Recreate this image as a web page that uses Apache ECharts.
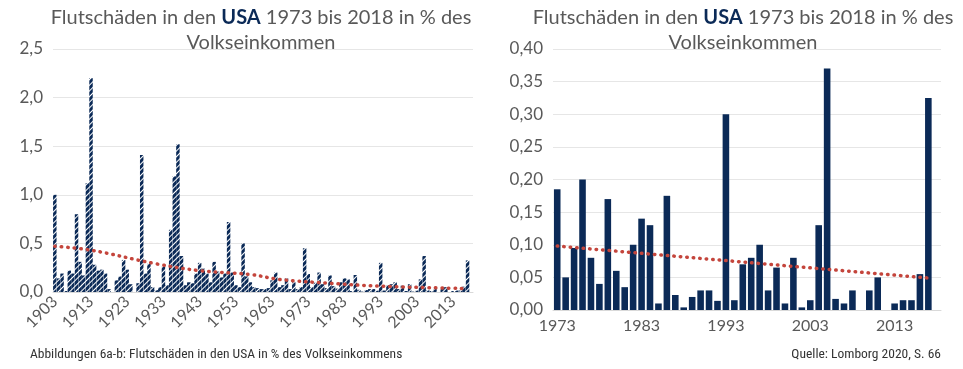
<!DOCTYPE html>
<html><head><meta charset="utf-8">
<script src="https://cdn.jsdelivr.net/npm/echarts@6/dist/echarts.min.js"></script>
<style>html,body{margin:0;padding:0;background:#fff}#c{width:963px;height:369px}</style>
</head><body><div id="c"></div>
<script>
// Categories
const yearsLong = [];   // 1903..2018
for (let y = 1903; y <= 2018; y++) yearsLong.push(String(y));
const yearsShort = [];  // 1973..2018
for (let y = 1973; y <= 2018; y++) yearsShort.push(String(y));

// Flood damage in % of national income, 1903-1972
const valuesEarly = [
  1.00, 0.14, 0.19, 0.01, 0.22, 0.19, 0.80, 0.31, 0.17, 1.12,
  2.20, 0.28, 0.22, 0.23, 0.19, 0.03, 0.00, 0.12, 0.16, 0.33,
  0.23, 0.08, 0.00, 0.09, 1.41, 0.19, 0.29, 0.05, 0.02, 0.05,
  0.26, 0.07, 0.64, 1.19, 1.52, 0.37, 0.07, 0.10, 0.09, 0.19,
  0.30, 0.24, 0.19, 0.10, 0.31, 0.21, 0.15, 0.19, 0.72, 0.20,
  0.07, 0.05, 0.50, 0.16, 0.10, 0.05, 0.04, 0.03, 0.03, 0.04,
  0.12, 0.20, 0.05, 0.07, 0.14, 0.03, 0.10, 0.03, 0.05, 0.45
];
// 1973-2018
const valuesRecent = [
  0.185, 0.05, 0.095, 0.20, 0.08, 0.04, 0.17, 0.06, 0.035, 0.10,
  0.14, 0.13, 0.01, 0.175, 0.023, 0.004, 0.02, 0.03, 0.03, 0.014,
  0.30, 0.015, 0.07, 0.08, 0.10, 0.03, 0.065, 0.01, 0.08, 0.004,
  0.015, 0.13, 0.37, 0.017, 0.01, 0.03, null, 0.03, 0.05, null,
  0.01, 0.015, 0.015, 0.055, 0.325, null
];
const valuesLong = valuesEarly.concat(valuesRecent);

// Trend lines (anchor points)
const trendLongYears = ['1903', '1913', '1931', '1943', '1957', '1965', '1979', '1993', '2017'];
const trendLongVals  = [0.47, 0.43, 0.29, 0.22, 0.18, 0.13, 0.09, 0.06, 0.035];
const trendShortYears = ['1973', '2017'];
const trendShortVals  = [0.098, 0.049];

// Tick settings
const yTicksLeft = { min: 0, max: 2.5, interval: 0.5 };
const yTicksRight = { min: 0, max: 0.4, interval: 0.05 };

const titleLine1Pre = 'Flutschäden in den ';
const titleBold = 'USA';
const titleLine1Post = ' 1973 bis 2018 in % des';
const titleLine2 = 'Volkseinkommen';
const footLeft = 'Abbildungen 6a-b: Flutschäden in den USA in % des Volkseinkommens';
const footRight = 'Quelle: Lomborg 2020, S. 66';

const NAVY = '#0b2a57';
const RED = '#c4453c';
const GREY = '#595959';
const GRID = '#e6e6e6';
const FONT = 'Lato, "Open Sans", sans-serif';
const NARROW = '"Liberation Sans Narrow", "Roboto Condensed", sans-serif';

function mapTrend(cats, yrs, vals) {
  return cats.map(c => { const i = yrs.indexOf(c); return i >= 0 ? vals[i] : null; });
}

const TS = 20;
const titleRich = {
  n: { fontFamily: FONT, fontSize: TS, fill: GREY },
  b: { fontFamily: FONT, fontSize: TS, fill: NAVY, fontWeight: 'bold' }
};
function titleEls(cx) {
  return [
    { type: 'text', x: cx, y: 18, style: {
        text: '{n|' + titleLine1Pre + '}{b|' + titleBold + '}{n|' + titleLine1Post + '}',
        rich: titleRich, align: 'center', verticalAlign: 'middle' } },
    { type: 'text', x: cx, y: 43, style: {
        text: titleLine2, fontFamily: FONT, fontSize: TS, fill: GREY, align: 'center', verticalAlign: 'middle' } }
  ];
}
const dotted = { color: RED, width: 3.5, type: [0.5, 6], cap: 'round' };

const chart = echarts.init(document.getElementById('c'));
chart.setOption({
  animation: false,
  backgroundColor: '#ffffff',
  graphic: titleEls(261).concat(titleEls(743)).concat([
    { type: 'text', x: 30, y: 355, style: { text: footLeft, fontFamily: NARROW, fontSize: 13.5, fill: '#333', verticalAlign: 'middle' } },
    { type: 'text', x: 941, y: 355, style: { text: footRight, fontFamily: NARROW, fontSize: 13.5, fill: '#333', align: 'right', verticalAlign: 'middle' } }
  ]),
  grid: [
    { left: 53, right: 490, top: 49, bottom: 77 },
    { left: 553, right: 22, top: 49, bottom: 59 }
  ],
  xAxis: [
    { type: 'category', gridIndex: 0, data: yearsLong,
      axisLine: { lineStyle: { color: '#d9d9d9' } }, axisTick: { show: false },
      axisLabel: { interval: 9, rotate: 45, color: GREY, fontFamily: FONT, fontSize: 16, margin: 7 } },
    { type: 'category', gridIndex: 1, data: yearsShort,
      axisLine: { lineStyle: { color: '#d9d9d9' } }, axisTick: { show: false },
      axisLabel: { interval: 9, color: GREY, fontFamily: FONT, fontSize: 16, margin: 8 } }
  ],
  yAxis: [
    { type: 'value', gridIndex: 0, min: yTicksLeft.min, max: yTicksLeft.max, interval: yTicksLeft.interval,
      axisLabel: { color: GREY, fontFamily: FONT, fontSize: 17, margin: 10, formatter: v => v.toFixed(1).replace('.', ',') },
      splitLine: { lineStyle: { color: GRID } }, axisLine: { show: false }, axisTick: { show: false } },
    { type: 'value', gridIndex: 1, min: yTicksRight.min, max: yTicksRight.max, interval: yTicksRight.interval,
      axisLabel: { color: GREY, fontFamily: FONT, fontSize: 17, margin: 10, formatter: v => v.toFixed(2).replace('.', ',') },
      splitLine: { lineStyle: { color: GRID } }, axisLine: { show: false }, axisTick: { show: false } }
  ],
  series: [
    { type: 'bar', xAxisIndex: 0, yAxisIndex: 0, data: valuesLong, barCategoryGap: '4%',
      itemStyle: { color: '#ffffff',
        decal: { symbol: 'rect', symbolSize: 1, color: NAVY, dashArrayX: [1, 0], dashArrayY: [2.2, 1], rotation: -Math.PI / 4 } } },
    { type: 'line', xAxisIndex: 0, yAxisIndex: 0, data: mapTrend(yearsLong, trendLongYears, trendLongVals),
      connectNulls: true, smooth: 0.4, symbol: 'none', lineStyle: dotted, z: 5 },
    { type: 'bar', xAxisIndex: 1, yAxisIndex: 1, data: valuesRecent, barCategoryGap: '22%',
      itemStyle: { color: NAVY } },
    { type: 'line', xAxisIndex: 1, yAxisIndex: 1, data: mapTrend(yearsShort, trendShortYears, trendShortVals),
      connectNulls: true, symbol: 'none', lineStyle: dotted, z: 5 }
  ]
});
</script>
</body></html>
